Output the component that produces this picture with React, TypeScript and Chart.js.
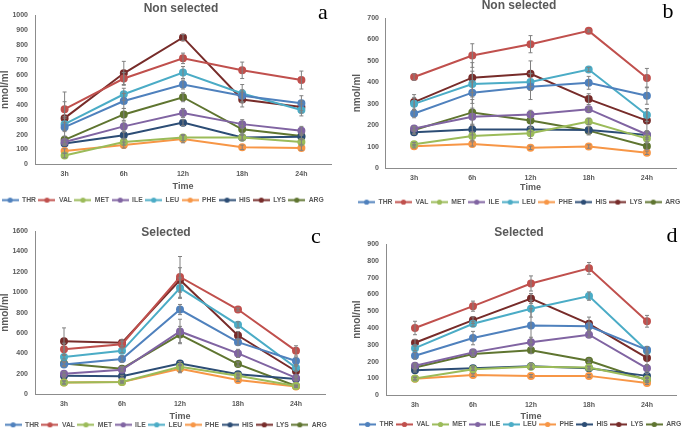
import { useEffect, useRef } from 'react'
import { Chart, registerables } from 'chart.js'

Chart.register(...registerables)

const times = ['3h', '6h', '12h', '18h', '24h']
const aminoAcids = ['THR', 'VAL', 'MET', 'ILE', 'LEU', 'PHE', 'HIS', 'LYS', 'ARG']
const lineColors = ['#4F81BD', '#C0504D', '#9BBB59', '#8064A2', '#4BACC6', '#F79646', '#2C4D75', '#772C2A', '#5F7530']

// a: non selected (rows follow aminoAcids)
const aValues = [
  [250, 425, 535, 460, 410],
  [370, 575, 710, 630, 565],
  [60, 150, 180, 180, 150],
  [150, 255, 345, 270, 225],
  [270, 470, 615, 475, 365],
  [90, 130, 170, 115, 110],
  [140, 195, 280, 180, 185],
  [310, 610, 850, 435, 385],
  [165, 335, 450, 235, 190],
]
const aErrors = [
  [30, 50, 30, 40, 50],
  [50, 40, 35, 55, 60],
  [15, 20, 20, 15, 15],
  [20, 30, 30, 30, 30],
  [40, 40, 40, 60, 40],
  [15, 20, 25, 15, 15],
  [15, 20, 20, 20, 15],
  [175, 80, 20, 50, 40],
  [25, 40, 30, 25, 20],
]

// b: non selected
const bValues = [
  [255, 352, 380, 398, 338],
  [425, 525, 578, 640, 420],
  [112, 150, 163, 218, 138],
  [185, 240, 250, 275, 157],
  [300, 392, 402, 460, 248],
  [102, 113, 95, 101, 72],
  [168, 180, 180, 178, 155],
  [308, 422, 440, 322, 222],
  [178, 260, 222, 175, 102],
]
const bErrors = [
  [20, 50, 60, 30, 40],
  [15, 55, 40, 5, 45],
  [8, 20, 25, 15, 15],
  [10, 40, 20, 10, 15],
  [30, 60, 40, 10, 30],
  [8, 10, 8, 8, 8],
  [10, 25, 10, 15, 20],
  [35, 70, 60, 25, 55],
  [15, 60, 30, 20, 15],
]

// c: selected
const cValues = [
  [290, 345, 830, 510, 325],
  [440, 490, 1150, 830, 425],
  [115, 120, 270, 180, 80],
  [200, 240, 615, 400, 160],
  [365, 425, 1040, 680, 260],
  [115, 120, 250, 140, 75],
  [180, 175, 300, 195, 150],
  [520, 505, 1120, 575, 225],
  [300, 250, 585, 295, 80],
]
const cErrors = [
  [20, 30, 50, 30, 40],
  [60, 30, 200, 15, 50],
  [15, 10, 50, 15, 8],
  [20, 20, 120, 40, 20],
  [20, 20, 100, 30, 30],
  [15, 10, 40, 15, 8],
  [15, 10, 20, 15, 15],
  [130, 30, 120, 40, 50],
  [20, 20, 80, 20, 10],
]

// d: selected
const dValues = [
  [235, 340, 415, 410, 270],
  [400, 530, 665, 755, 440],
  [100, 155, 170, 165, 95],
  [175, 255, 315, 360, 160],
  [280, 425, 515, 590, 265],
  [98, 120, 115, 115, 72],
  [148, 160, 173, 160, 115],
  [312, 447, 575, 425, 222],
  [165, 245, 268, 205, 90],
]
const dErrors = [
  [20, 40, 100, 20, 20],
  [40, 30, 45, 35, 35],
  [8, 8, 10, 8, 8],
  [15, 15, 30, 15, 20],
  [15, 15, 50, 25, 25],
  [8, 8, 8, 8, 8],
  [10, 10, 20, 10, 15],
  [20, 20, 30, 40, 40],
  [15, 15, 20, 10, 15],
]

const panels = [
  { letter: 'a', title: 'Non selected', values: aValues, errors: aErrors, max: 1000, step: 100,
    left: 0, top: 0, width: 342, titleX: 181, titleY: 7.5, letterX: 323, letterY: 12,
    padTop: 15, padBottom: 0, rightGap: 11, yWidth: 35, yTitleTop: -1, yTickPad: 7,
    xHeight: 30.2, xTitleBottom: 3.1, xTickPad: 5.5, legendDx: -8.3, legendDy: -0.5 },
  { letter: 'b', title: 'Non selected', values: bValues, errors: bErrors, max: 700, step: 100,
    left: 342, top: 0, width: 343, titleX: 177, titleY: 5, letterX: 326, letterY: 11,
    padTop: 18, padBottom: 0, rightGap: 9, yWidth: 43, yTitleTop: 9, yTickPad: 6,
    xHeight: 26.5, xTitleBottom: 1.6, xTickPad: 5.8, legendDx: 5.7, legendDy: 1.5 },
  { letter: 'c', title: 'Selected', values: cValues, errors: cErrors, max: 1600, step: 200,
    left: 0, top: 214, width: 342, titleX: 166, titleY: 18, letterX: 316, letterY: 22,
    padTop: 17, padBottom: -14, rightGap: 17, yWidth: 35, yTitleTop: -1, yTickPad: 7,
    xHeight: 28.5, xTitleBottom: 0.4, xTickPad: 5.8, legendDx: -5.3, legendDy: -3.8 },
  { letter: 'd', title: 'Selected', values: dValues, errors: dErrors, max: 900, step: 100,
    left: 342, top: 214, width: 343, titleX: 177, titleY: 18, letterX: 330, letterY: 21,
    padTop: 30, padBottom: -14, rightGap: 9, yWidth: 44, yTitleTop: 9, yTickPad: 7,
    xHeight: 27.5, xTitleBottom: 0.4, xTickPad: 5.3, legendDx: 6.7, legendDy: -4.2 },
]

const grey = '#595959'
const axisGrey = '#8c8c8c'
const font = 'Liberation Sans, Arial, sans-serif'

const errorBars = {
  id: 'errorBars',
  afterDatasetsDraw(chart: any) {
    const { ctx } = chart
    const y = chart.scales.y
    ctx.save()
    ctx.strokeStyle = '#808080'
    ctx.lineWidth = 1
    chart.data.datasets.forEach((ds: any, i: number) => {
      const meta = chart.getDatasetMeta(i)
      meta.data.forEach((pt: any, j: number) => {
        const e = ds.errors[j]
        if (!e) return
        const yTop = y.getPixelForValue(ds.data[j] + e)
        const yBot = y.getPixelForValue(Math.max(0, ds.data[j] - e))
        ctx.beginPath()
        ctx.moveTo(pt.x, yTop)
        ctx.lineTo(pt.x, yBot)
        ctx.moveTo(pt.x - 2, yTop)
        ctx.lineTo(pt.x + 2, yTop)
        ctx.moveTo(pt.x - 2, yBot)
        ctx.lineTo(pt.x + 2, yBot)
        ctx.stroke()
      })
    })
    ctx.restore()
  },
}

function legendIcon(color: string) {
  const c = document.createElement('canvas')
  c.width = 17
  c.height = 7
  const g = c.getContext('2d')!
  g.strokeStyle = color
  g.lineWidth = 2
  g.beginPath()
  g.moveTo(0, 3.5)
  g.lineTo(17, 3.5)
  g.stroke()
  g.fillStyle = color
  g.beginPath()
  g.arc(8.5, 3.5, 2.6, 0, Math.PI * 2)
  g.fill()
  return c
}

function Panel({ p }: { p: any }) {
  const ref = useRef<HTMLCanvasElement>(null)

  useEffect(() => {
    const icons = lineColors.map(legendIcon)
    // nudge the legend box so it sits where the original one does
    const legendShift = {
      id: 'legendShift',
      afterLayout(chart: any) {
        const lg = chart.legend
        lg.left += p.legendDx
        lg.right += p.legendDx
        lg.top += p.legendDy
        lg.bottom += p.legendDy
      },
    }
    const chart = new Chart(ref.current!, {
      type: 'line',
      data: {
        labels: times,
        datasets: aminoAcids.map((name, i) => ({
          label: name,
          data: p.values[i],
          errors: p.errors[i],
          borderColor: lineColors[i],
          backgroundColor: lineColors[i],
          borderWidth: 2,
          pointRadius: 3,
          pointHoverRadius: 3,
          tension: 0,
        })) as any,
      },
      options: {
        animation: false,
        responsive: false,
        layout: { padding: { top: p.padTop, left: 0, right: 0, bottom: p.padBottom } },
        plugins: {
          title: { display: false },
          tooltip: { enabled: false },
          legend: {
            position: 'bottom',
            labels: {
              usePointStyle: true,
              pointStyleWidth: 17,
              boxHeight: 7,
              padding: 2.5,
              color: grey,
              font: { family: font, size: 6.8, weight: 'bold' },
              generateLabels: (ch: any) =>
                ch.data.datasets.map((ds: any, i: number) => ({
                  text: ds.label,
                  pointStyle: icons[i],
                  fillStyle: lineColors[i],
                  strokeStyle: lineColors[i],
                  lineWidth: 0,
                  hidden: false,
                  datasetIndex: i,
                  fontColor: grey,
                })),
            },
          },
        },
        scales: {
          x: {
            offset: true,
            grid: { display: false, drawTicks: false, tickLength: 0 },
            border: { display: true, color: axisGrey, width: 1 },
            ticks: { color: grey, padding: p.xTickPad, font: { family: font, size: 7, weight: 'bold' } },
            title: { display: true, text: 'Time', color: grey, padding: { top: 0, bottom: p.xTitleBottom },
              font: { family: font, size: 9, weight: 'bold' } },
            afterFit: (s: any) => { s.height = p.xHeight },
          },
          y: {
            min: 0,
            max: p.max,
            grid: { display: false, drawTicks: false, tickLength: 0 },
            border: { display: true, color: axisGrey, width: 1 },
            ticks: { stepSize: p.step, color: grey, padding: p.yTickPad, callback: (v: any) => String(v),
              font: { family: font, size: 7, weight: 'bold' } },
            title: { display: true, text: 'nmol/ml', color: grey, padding: { top: p.yTitleTop, bottom: 0 },
              font: { family: font, size: 10, weight: 'bold' } },
            afterFit: (s: any) => { s.width = p.yWidth },
          },
          gap: {
            type: 'linear',
            position: 'right',
            display: true,
            grid: { display: false, drawTicks: false, tickLength: 0 },
            border: { display: false },
            ticks: { display: false },
            afterFit: (s: any) => { s.width = p.rightGap },
          },
        },
      },
      plugins: [errorBars, legendShift],
    })
    return () => chart.destroy()
  }, [p])

  return (
    <div style={{ position: 'absolute', left: p.left, top: p.top, width: p.width, height: 214 }}>
      <canvas ref={ref} width={p.width} height={214} style={{ display: 'block' }}></canvas>
      <div style={{ position: 'absolute', left: p.titleX, top: p.titleY, transform: 'translate(-50%, -50%)',
        font: `bold 12px ${font}`, color: grey, whiteSpace: 'nowrap' }}>{p.title}</div>
      <div style={{ position: 'absolute', left: p.letterX, top: p.letterY, transform: 'translate(-50%, -50%)',
        font: '22px "Liberation Serif", serif', color: '#000' }}>{p.letter}</div>
    </div>
  )
}

export default function App() {
  return (
    <div style={{ position: 'fixed', left: 0, top: 0, width: 685, height: 428, background: '#fff', overflow: 'hidden' }}>
      {panels.map((p) => <Panel key={p.letter} p={p} />)}
    </div>
  )
}
